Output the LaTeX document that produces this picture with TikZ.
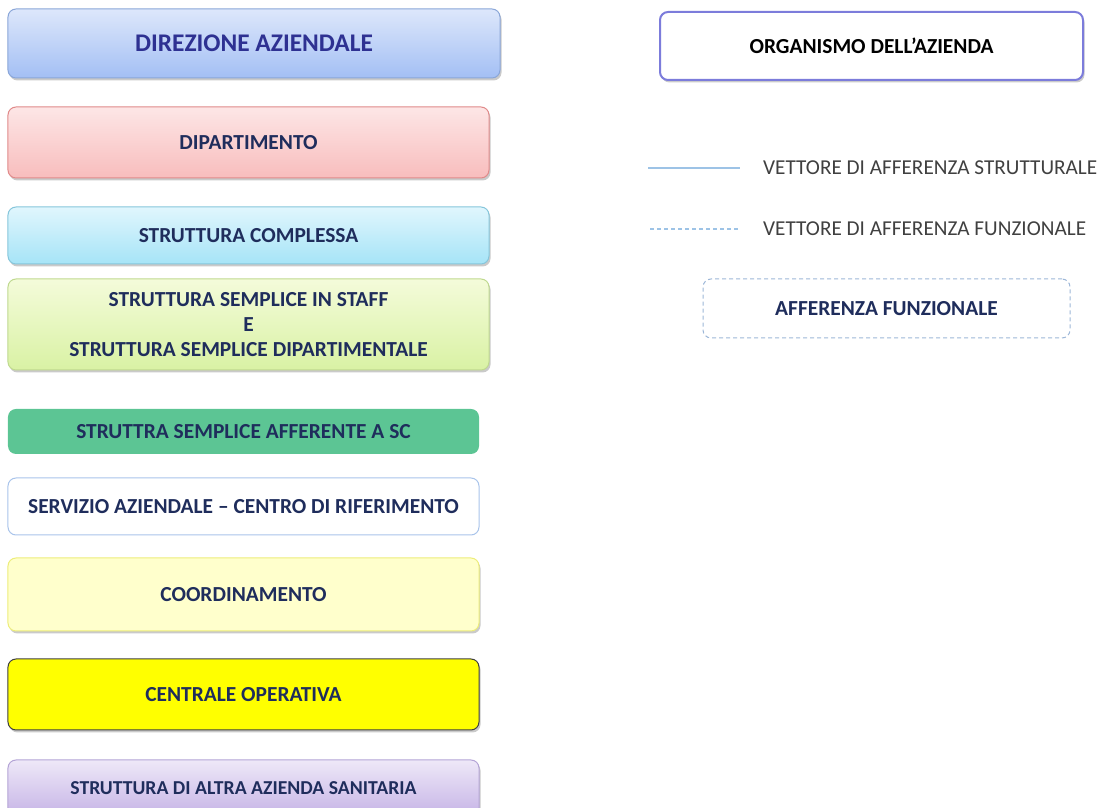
\documentclass[tikz,border=0pt]{standalone}
\usepackage{fontspec}
\setmainfont{Carlito}
\usetikzlibrary{shadows}
\definecolor{navytext}{HTML}{1F2D5C}
\definecolor{dirtext}{HTML}{2E3192}
\definecolor{greytext}{HTML}{404040}
\definecolor{legline}{HTML}{9DC3E6}
\definecolor{dirtop}{HTML}{DDE7FB}
\definecolor{dirbot}{HTML}{A3BFF4}
\definecolor{dirdraw}{HTML}{8AA6D8}
\definecolor{diptop}{HTML}{FDE6E6}
\definecolor{dipbot}{HTML}{F8BDBD}
\definecolor{dipdraw}{HTML}{E08A8A}
\definecolor{sctop}{HTML}{E0F6FD}
\definecolor{scbot}{HTML}{A6E4F7}
\definecolor{scdraw}{HTML}{86C6DB}
\definecolor{sstop}{HTML}{F4FBDA}
\definecolor{ssbot}{HTML}{D9F2A4}
\definecolor{ssdraw}{HTML}{BFD98F}
\definecolor{ssafill}{HTML}{5CC594}
\definecolor{servdraw}{HTML}{A9C4EB}
\definecolor{coordfill}{HTML}{FFFFCC}
\definecolor{coorddraw}{HTML}{EDED7A}
\definecolor{centrfill}{HTML}{FFFF00}
\definecolor{altratop}{HTML}{EEE8F8}
\definecolor{altrabot}{HTML}{C6B4E6}
\definecolor{altradraw}{HTML}{B4A4D6}
\definecolor{orgdraw}{HTML}{7C7CDB}
\definecolor{affdraw}{HTML}{9DB7D8}
\tikzset{
  unitbox/.style={rounded corners=8bp,line width=1bp,align=center,
    font=\fontsize{21.5}{25}\selectfont\bfseries,text=navytext},
  shadowbox/.style={unitbox,
    drop shadow={shadow xshift=1.5bp,shadow yshift=-2.5bp,opacity=0.35,fill=black!60}},
  legtext/.style={anchor=west,inner sep=0pt,font=\fontsize{21.3}{25}\selectfont,text=greytext}
}
\begin{document}
\begin{tikzpicture}[x=1bp,y=1bp]
  \useasboundingbox (0,0) rectangle (1100,808);
%%
  % Node: dir
  \node[shadowbox,draw=dirdraw,top color=dirtop,bottom color=dirbot,
    minimum width=492bp,minimum height=69bp,text=dirtext,
    font=\fontsize{25.5}{28}\selectfont\bfseries] (dir) at (254,764.5) {DIREZIONE AZIENDALE};
  % Node: dip
  \node[shadowbox,draw=dipdraw,top color=diptop,bottom color=dipbot,
    minimum width=481bp,minimum height=71bp] (dip) at (248.5,665.5) {DIPARTIMENTO};
  % Node: sc
  \node[shadowbox,draw=scdraw,top color=sctop,bottom color=scbot,
    minimum width=481bp,minimum height=57bp] (sc) at (248.5,572.5) {STRUTTURA COMPLESSA};
  % Node: ss
  \node[shadowbox,draw=ssdraw,top color=sstop,bottom color=ssbot,
    minimum width=481bp,minimum height=91bp] (ss) at (248.5,483.5)
    {STRUTTURA SEMPLICE IN STAFF\\E\\STRUTTURA SEMPLICE DIPARTIMENTALE};
  % Node: ssa
  \node[unitbox,fill=ssafill,
    minimum width=471bp,minimum height=45bp] (ssa) at (243.5,376.5) {STRUTTRA SEMPLICE AFFERENTE A SC};
  % Node: serv
  \node[unitbox,draw=servdraw,fill=white,
    minimum width=471bp,minimum height=57bp] (serv) at (243.5,301.5) {SERVIZIO AZIENDALE -- CENTRO DI RIFERIMENTO};
  % Node: coord
  \node[shadowbox,draw=coorddraw,fill=coordfill,
    minimum width=471bp,minimum height=73bp] (coord) at (243.5,213.5) {COORDINAMENTO};
  % Node: centr
  \node[shadowbox,draw=black!75,fill=centrfill,
    minimum width=471bp,minimum height=71bp] (centr) at (243.5,113.5) {CENTRALE OPERATIVA};
  % Node: altra
  \node[shadowbox,draw=altradraw,top color=altratop,bottom color=altrabot,
    minimum width=471bp,minimum height=56bp,
    font=\fontsize{19.8}{23}\selectfont\bfseries] (altra) at (243.5,20) {STRUTTURA DI ALTRA AZIENDA SANITARIA};
%%
  % Node: org
  \node[shadowbox,draw=orgdraw,line width=2bp,fill=white,text=black,
    minimum width=423bp,minimum height=68bp] (org) at (871.5,762) {ORGANISMO DELL'AZIENDA};
  % Legend: structural vector
  \coordinate (strA) at (648,640);
  \coordinate (strB) at (740,640);
  \draw[legline,line width=1.5bp] (strA) -- (strB);
  \node[legtext] (strtext) at (763,640) {VETTORE DI AFFERENZA STRUTTURALE};
  % Legend: functional vector
  \coordinate (funA) at (650,579);
  \coordinate (funB) at (740,579);
  \draw[legline,line width=1.5bp,dash pattern=on 4bp off 3bp] (funA) -- (funB);
  \node[legtext] (funtext) at (763,579) {VETTORE DI AFFERENZA FUNZIONALE};
  % Node: aff
  \node[unitbox,draw=affdraw,dash pattern=on 4bp off 3bp,fill=white,
    minimum width=367bp,minimum height=59bp] (aff) at (886.5,499.5) {AFFERENZA FUNZIONALE};
%
\end{tikzpicture}
\end{document}
